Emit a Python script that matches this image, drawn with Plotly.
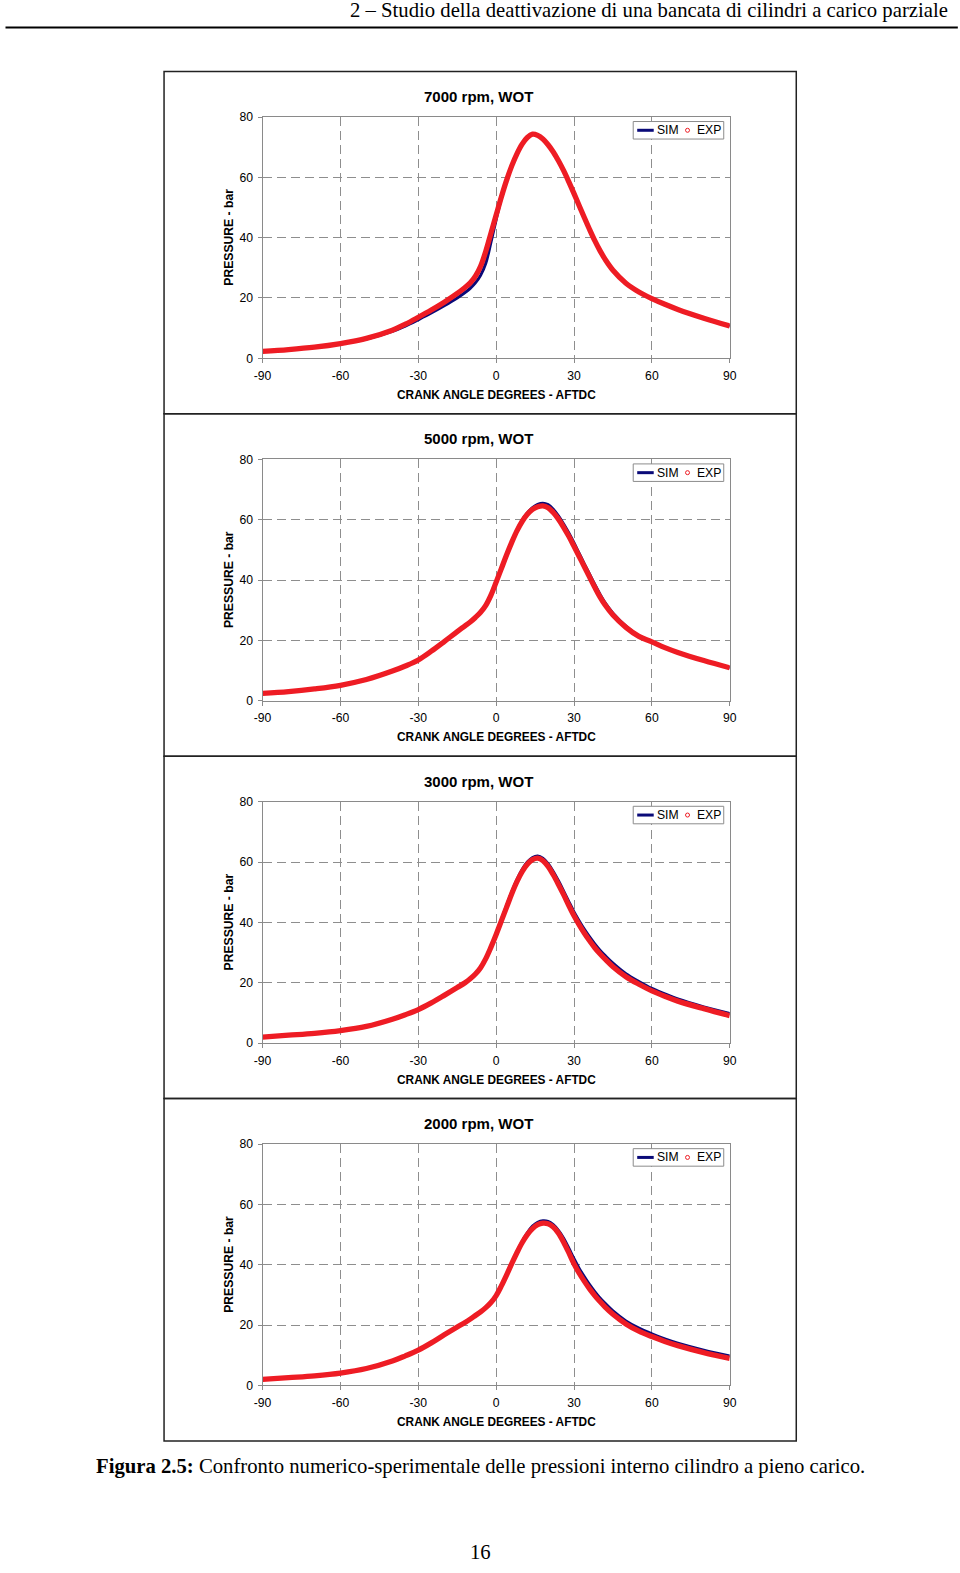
import plotly.graph_objects as go

# ---------------- data ----------------
panel_titles = ["7000 rpm, WOT", "5000 rpm, WOT", "3000 rpm, WOT", "2000 rpm, WOT"]

crank_angle = [-90, -80, -70, -60, -50, -40, -35, -30, -25, -20, -15, -12, -10, -8, -6, -4, -2, 0, 2, 4,
               6, 8, 10, 12, 14, 16, 18, 20, 22, 24, 26, 28, 30, 32, 34, 36, 38, 40, 42, 45,
               50, 55, 60, 65, 70, 80, 90]

exp_7000 = [2.3, 2.9, 3.7, 4.9, 6.6, 9.3, 11.3, 13.6, 16.0, 18.6, 21.5, 23.5, 25.0, 27.2, 30.5, 35.5, 41.5, 47.5, 53.5, 59.0,
            63.8, 67.8, 71.0, 73.2, 74.3, 73.9, 72.7, 70.8, 68.4, 65.5, 62.2, 58.5, 54.6, 50.6, 46.6, 42.7, 39.0, 35.7, 32.8, 29.2,
            24.9, 22.0, 19.8, 17.9, 16.2, 13.3, 10.7]
sim_7000 = [2.3, 2.9, 3.7, 4.8, 6.4, 8.9, 10.7, 12.8, 15.0, 17.4, 20.0, 21.8, 23.2, 25.0, 27.5, 31.5, 38.5, 46.0, 53.0, 58.8,
            63.6, 67.8, 71.0, 73.2, 74.3, 73.9, 72.7, 70.8, 68.4, 65.5, 62.2, 58.5, 54.6, 50.6, 46.6, 42.7, 39.0, 35.7, 32.8, 29.2,
            24.9, 22.0, 19.8, 17.9, 16.2, 13.3, 10.7]

exp_5000 = [2.4, 3.0, 3.9, 5.1, 7.0, 9.8, 11.5, 13.5, 16.4, 19.6, 22.9, 24.8, 26.1, 27.6, 29.3, 31.6, 35.0, 39.3, 43.8, 48.3,
            52.5, 56.3, 59.4, 61.8, 63.4, 64.3, 64.6, 64.0, 62.4, 60.2, 57.5, 54.5, 51.2, 47.8, 44.4, 41.0, 37.6, 34.4, 31.7, 28.4,
            24.3, 21.3, 19.5, 17.6, 16.0, 13.3, 10.9]
sim_5000 = [2.4, 3.0, 3.9, 5.1, 7.0, 9.8, 11.5, 13.5, 16.4, 19.6, 22.9, 24.8, 26.1, 27.6, 29.3, 31.6, 35.0, 39.3, 43.8, 48.4,
            52.7, 56.6, 59.8, 62.2, 64.0, 65.1, 65.5, 65.0, 63.5, 61.3, 58.6, 55.6, 52.3, 48.8, 45.3, 41.9, 38.5, 35.3, 32.4, 29.0,
            24.7, 21.5, 19.6, 17.7, 16.1, 13.3, 10.9]

exp_3000 = [2.0, 2.6, 3.2, 4.1, 5.5, 7.9, 9.4, 11.1, 13.3, 15.8, 18.4, 20.0, 21.3, 22.9, 25.0, 28.0, 31.8, 36.0, 40.5, 45.0,
            49.5, 53.5, 56.8, 59.3, 60.8, 61.3, 60.5, 58.6, 55.8, 52.6, 49.2, 45.6, 42.2, 39.2, 36.4, 33.9, 31.6, 29.6, 27.8, 25.3,
            22.0, 19.5, 17.3, 15.5, 13.9, 11.4, 9.1]
sim_3000 = [2.0, 2.6, 3.2, 4.1, 5.5, 7.9, 9.4, 11.1, 13.3, 15.8, 18.4, 20.0, 21.3, 22.9, 25.0, 28.0, 31.8, 36.3, 41.0, 45.6,
            50.1, 54.2, 57.5, 60.0, 61.5, 62.0, 61.3, 59.5, 56.9, 53.8, 50.4, 46.9, 43.5, 40.5, 37.7, 35.2, 32.9, 30.8, 29.0, 26.5,
            23.0, 20.4, 18.1, 16.3, 14.6, 12.0, 9.8]

exp_2000 = [2.0, 2.6, 3.2, 4.1, 5.6, 8.1, 9.8, 11.7, 14.1, 16.8, 19.4, 20.9, 22.0, 23.2, 24.4, 25.8, 27.5, 29.8, 33.0, 36.6,
            40.4, 44.0, 47.3, 50.0, 52.0, 53.3, 53.8, 53.6, 52.5, 50.5, 47.5, 44.0, 40.3, 37.2, 34.5, 32.0, 29.8, 27.8, 26.0, 23.6,
            20.4, 18.0, 16.2, 14.6, 13.2, 10.9, 9.0]
sim_2000 = [2.0, 2.6, 3.2, 4.1, 5.6, 8.1, 9.8, 11.7, 14.1, 16.8, 19.4, 20.9, 22.0, 23.2, 24.4, 25.8, 27.5, 29.8, 33.0, 36.6,
            40.4, 44.2, 47.7, 50.6, 52.8, 54.1, 54.6, 54.4, 53.3, 51.4, 48.8, 45.5, 42.0, 38.8, 36.0, 33.4, 31.1, 29.0, 27.2, 24.7,
            21.4, 19.0, 17.1, 15.4, 14.0, 11.7, 9.8]

x_ticks = [-90, -60, -30, 0, 30, 60, 90]
x_tick_labels = ["-90", "-60", "-30", "0", "30", "60", "90"]
y_ticks = [0, 20, 40, 60, 80]
y_tick_labels = ["0", "20", "40", "60", "80"]
x_title = "CRANK ANGLE DEGREES - AFTDC"
y_title = "PRESSURE - bar"
legend_labels = ["SIM", "EXP"]
header_text = "2 \u2013 Studio della deattivazione di una bancata di cilindri a carico parziale"
caption_bold = "Figura 2.5:"
caption_text = " Confronto numerico-sperimentale delle pressioni interno cilindro a pieno carico."
page_number = "16"

exps = [exp_7000, exp_5000, exp_3000, exp_2000]
sims = [sim_7000, sim_5000, sim_3000, sim_2000]

# ---------------- layout geometry (target pixels on the photographed page) ----------------
W, H = 960, 1573
# the photographed page is slightly rescaled; compensate so targets land in place
OX, SX = 8.5, 0.983
OY, SY = 6.8, 0.990
FS = 1 / 0.985


def fx(X):
    return ((X - OX) / SX) / W


def fy(Y):
    return 1 - ((Y - OY) / SY) / H


def fsz(s):
    return s * FS


PL, PR = 262, 729
PH = 241
STEP = 342.0
TOP0 = 116.7
BOX_L, BOX_R = 163.5, 795.5

NAVY = "#0a0a78"
RED = "#ee1c24"
GRID = "#8e8e8e"
AXC = "#8a8a8a"
DASH = "9px,5px"
SANS = "Liberation Sans, Arial, sans-serif"
SERIF = "Liberation Serif, Times New Roman, serif"

fig = go.Figure()
layout = dict(
    width=W, height=H, margin=dict(l=0, r=0, t=0, b=0), autosize=False,
    paper_bgcolor="white", plot_bgcolor="white", showlegend=False,
    font=dict(family=SANS, size=fsz(12), color="black"),
)
shapes = []
annotations = []

for i in range(4):
    n = "" if i == 0 else str(i + 1)
    top = TOP0 + i * STEP
    bot = top + PH
    xa, ya = "x" + n, "y" + n
    fig.add_trace(go.Scatter(x=crank_angle, y=sims[i], mode="lines", name=legend_labels[0],
                             line=dict(color=NAVY, width=3, shape="spline", smoothing=1.0),
                             xaxis=xa, yaxis=ya))
    fig.add_trace(go.Scatter(x=crank_angle, y=exps[i], mode="lines", name=legend_labels[1],
                             line=dict(color=RED, width=5.3, shape="spline", smoothing=1.0),
                             xaxis=xa, yaxis=ya))
    layout["xaxis" + n] = dict(
        domain=[fx(PL), fx(PR)], anchor=ya, range=[-90, 90],
        tickmode="array", tickvals=x_ticks, ticktext=x_tick_labels,
        showgrid=True, gridcolor=GRID, griddash=DASH, gridwidth=1, zeroline=False,
        showline=True, linecolor=AXC, linewidth=1, mirror=True,
        ticks="outside", ticklen=4, tickcolor=AXC, tickfont=dict(size=fsz(12), color="black"),
        ticklabelstandoff=2,
    )
    layout["yaxis" + n] = dict(
        domain=[fy(bot), fy(top)], anchor=xa, range=[0, 80],
        tickmode="array", tickvals=y_ticks, ticktext=y_tick_labels,
        showgrid=True, gridcolor=GRID, griddash=DASH, gridwidth=1, zeroline=False,
        showline=True, linecolor=AXC, linewidth=1, mirror=True,
        ticks="outside", ticklen=4, tickcolor=AXC, tickfont=dict(size=fsz(12), color="black"),
        ticklabelstandoff=2,
    )
    # panel frame
    btop = top - 45.5
    shapes.append(dict(type="rect", xref="paper", yref="paper",
                       x0=fx(BOX_L), x1=fx(BOX_R), y0=fy(btop + STEP), y1=fy(btop),
                       line=dict(color="#222222", width=1.5), fillcolor="rgba(0,0,0,0)", layer="below"))
    # title and axis titles
    annotations.append(dict(text="<b>" + panel_titles[i] + "</b>", xref="paper", yref="paper",
                            x=fx(478.5), y=fy(top - 20.5), xanchor="center", yanchor="middle",
                            showarrow=False, font=dict(family=SANS, size=fsz(14.8), color="black")))
    annotations.append(dict(text="<b>" + x_title + "</b>", xref="paper", yref="paper",
                            x=fx(495.5), y=fy(bot + 36.5), xanchor="center", yanchor="middle",
                            showarrow=False, font=dict(family=SANS, size=fsz(11.7), color="black")))
    annotations.append(dict(text="<b>" + y_title + "</b>", xref="paper", yref="paper",
                            x=fx(228.5), y=fy(top + 120.5), xanchor="center", yanchor="middle",
                            textangle=-90, showarrow=False, font=dict(family=SANS, size=fsz(12), color="black")))
    # legend box (drawn manually for the compact Excel look)
    ly0, ly1 = top + 4.5, top + 22
    shapes.append(dict(type="rect", xref="paper", yref="paper",
                       x0=fx(632.5), x1=fx(723), y0=fy(ly1), y1=fy(ly0),
                       line=dict(color="#8c8c8c", width=1), fillcolor="white"))
    lyc = (ly0 + ly1) / 2
    shapes.append(dict(type="line", xref="paper", yref="paper",
                       x0=fx(636.5), x1=fx(653), y0=fy(lyc), y1=fy(lyc),
                       line=dict(color=NAVY, width=3)))
    shapes.append(dict(type="circle", xref="paper", yref="paper",
                       x0=fx(684.8), x1=fx(688.8), y0=fy(lyc + 2), y1=fy(lyc - 2),
                       line=dict(color=RED, width=1)))
    annotations.append(dict(text=legend_labels[0], xref="paper", yref="paper",
                            x=fx(654.5), y=fy(lyc), xanchor="left", yanchor="middle",
                            showarrow=False, font=dict(family=SANS, size=fsz(12), color="black")))
    annotations.append(dict(text=legend_labels[1], xref="paper", yref="paper",
                            x=fx(694.5), y=fy(lyc), xanchor="left", yanchor="middle",
                            showarrow=False, font=dict(family=SANS, size=fsz(12), color="black")))

# page header, caption, page number
shapes.append(dict(type="line", xref="paper", yref="paper", x0=fx(5), x1=fx(957), y0=fy(27.3), y1=fy(27.3),
                   line=dict(color="black", width=1.8)))
annotations.append(dict(text=header_text, xref="paper", yref="paper", x=fx(949), y=fy(10.5),
                        xanchor="right", yanchor="middle", showarrow=False,
                        font=dict(family=SERIF, size=fsz(20.4), color="black")))
annotations.append(dict(text="<b>" + caption_bold + "</b>" + caption_text, xref="paper", yref="paper",
                        x=fx(479.5), y=fy(1464.5), xanchor="center", yanchor="middle", showarrow=False,
                        font=dict(family=SERIF, size=fsz(20.4), color="black")))
annotations.append(dict(text=page_number, xref="paper", yref="paper", x=fx(479.5), y=fy(1550.5),
                        xanchor="center", yanchor="middle", showarrow=False,
                        font=dict(family=SERIF, size=fsz(20.4), color="black")))

layout["shapes"] = shapes
layout["annotations"] = annotations
fig.update_layout(**layout)
fig.write_html("out.html",
               config={"displayModeBar": False},
               post_script="document.body.style.margin='0px';document.body.style.padding='0px';"
                           "document.documentElement.style.overflow='hidden';")
